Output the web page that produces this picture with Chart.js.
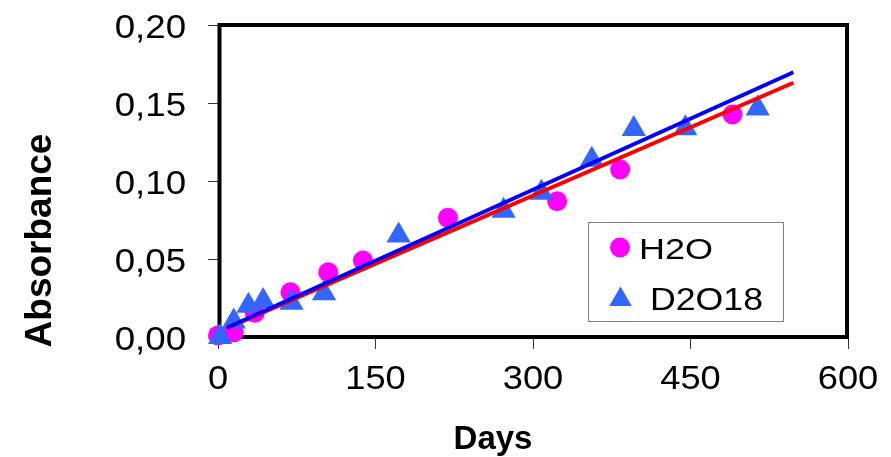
<!DOCTYPE html>
<html>
<head>
<meta charset="utf-8">
<script src="https://cdn.jsdelivr.net/npm/chart.js@4"></script>
<style>
  html, body { margin: 0; padding: 0; background: #ffffff; overflow: hidden; }
  #wrap { width: 891px; height: 457px; }
</style>
</head>
<body>
<div id="wrap"><canvas id="c" width="891" height="457"></canvas></div>
<script>
// Absorbance measured over time for the two water samples
const h2oDays = [0, 15, 35, 69, 105, 138, 219, 323, 383, 490];
const h2oAbs  = [0.001, 0.003, 0.0155, 0.0287, 0.0415, 0.049, 0.0764, 0.087, 0.1074, 0.1426];

const d2oDays = [2, 15, 29, 43, 70, 101, 172, 272, 308, 356, 396, 445, 514];
const d2oAbs  = [0.000, 0.010, 0.020, 0.023, 0.022, 0.028, 0.065, 0.081, 0.0924, 0.1136, 0.1333, 0.1338, 0.1465];

// Linear trend lines (end points)
const h2oFitDays = [8.5, 548];
const h2oFitAbs  = [0.0057, 0.163];
const d2oFitDays = [8.5, 548];
const d2oFitAbs  = [0.0059, 0.1697];

// Axis labels
const xTickLabels = ['0', '150', '300', '450', '600'];
const yTickLabels = ['0,00', '0,05', '0,10', '0,15', '0,20'];
const seriesNames = ['H2O', 'D2O18'];
const xTitle = 'Days';
const yTitle = 'Absorbance';

const toPoints = (xs, ys) => xs.map((x, i) => ({ x: x, y: ys[i] }));

const MAGENTA = '#ff00ff';
const TRI_BLUE = '#3366ff';

// Thick black frame around the plot area, drawn under the markers
const framePlugin = {
  id: 'frame',
  beforeDatasetsDraw(chart) {
    const { ctx, chartArea: a } = chart;
    ctx.save();
    ctx.strokeStyle = '#000000';
    ctx.lineWidth = 4;
    ctx.strokeRect(a.left + 1.5, a.top, (a.right - 1) - (a.left + 1.5), a.bottom - a.top);
    ctx.restore();
  }
};

// Legend box inside the plot area
const legendPlugin = {
  id: 'boxLegend',
  afterDatasetsDraw(chart) {
    const ctx = chart.ctx;
    ctx.save();
    ctx.fillStyle = '#ffffff';
    ctx.fillRect(588, 222, 196, 100);
    ctx.strokeStyle = '#808080';
    ctx.lineWidth = 1;
    ctx.strokeRect(588.5, 222.5, 195, 99);

    // circle marker
    ctx.fillStyle = MAGENTA;
    ctx.beginPath();
    ctx.arc(620, 247.5, 10, 0, Math.PI * 2);
    ctx.fill();

    // triangle marker
    const r = 13, cx = 620.5, cy = 299.5;
    ctx.fillStyle = TRI_BLUE;
    ctx.beginPath();
    for (let k = 0; k < 3; k++) {
      const ang = k * 2 * Math.PI / 3;
      const px = cx + Math.sin(ang) * r, py = cy - Math.cos(ang) * r;
      if (k === 0) ctx.moveTo(px, py); else ctx.lineTo(px, py);
    }
    ctx.closePath();
    ctx.fill();

    ctx.fillStyle = '#000000';
    ctx.textBaseline = 'alphabetic';
    ctx.textAlign = 'left';
    ctx.font = '30px "Liberation Sans", Arial, sans-serif';
    ctx.save(); ctx.translate(639, 258.5); ctx.scale(1.2, 1); ctx.fillText(seriesNames[0], 0, 0); ctx.restore();
    ctx.font = '31px "Liberation Sans", Arial, sans-serif';
    ctx.save(); ctx.translate(650, 310); ctx.scale(1.15, 1); ctx.fillText(seriesNames[1], 0, 0); ctx.restore();
    ctx.restore();
  }
};

// Tick labels and axis titles, set in a slightly widened sans face
const textPlugin = {
  id: 'axisText',
  afterDraw(chart) {
    const ctx = chart.ctx;
    const xs = chart.scales.x, ys = chart.scales.y;
    ctx.save();
    ctx.fillStyle = '#000000';
    ctx.textBaseline = 'alphabetic';
    ctx.font = '33px "Liberation Sans", Arial, sans-serif';

    ys.ticks.forEach((t, i) => {
      const y = ys.getPixelForTick(i);
      ctx.save();
      ctx.translate(186, y + 12.5);
      ctx.scale(1.11, 1);
      ctx.textAlign = 'right';
      ctx.fillText(t.label, 0, 0);
      ctx.restore();
    });

    xs.ticks.forEach((t, i) => {
      const x = xs.getPixelForTick(i);
      ctx.save();
      ctx.translate(x, 389);
      ctx.scale(1.1, 1);
      ctx.textAlign = 'center';
      ctx.fillText(t.label, 0, 0);
      ctx.restore();
    });

    // x title
    ctx.font = 'bold 33px "Liberation Sans", Arial, sans-serif';
    ctx.textAlign = 'center';
    ctx.fillText(xTitle, 493, 449);

    // y title (rotated)
    ctx.save();
    ctx.translate(51, 240.5);
    ctx.rotate(-Math.PI / 2);
    ctx.font = 'bold 37px "Liberation Sans", Arial, sans-serif';
    ctx.textAlign = 'center';
    ctx.fillText(yTitle, 0, 0);
    ctx.restore();

    ctx.restore();
  }
};

new Chart(document.getElementById('c'), {
  type: 'scatter',
  data: {
    datasets: [
      {
        label: 'D2O18 fit',
        data: toPoints(d2oFitDays, d2oFitAbs),
        showLine: true,
        borderColor: '#0000ff',
        borderWidth: 4,
        pointRadius: 0,
        fill: false,
        order: 0,
        clip: false
      },
      {
        label: 'H2O fit',
        data: toPoints(h2oFitDays, h2oFitAbs),
        showLine: true,
        borderColor: '#ff0000',
        borderWidth: 4,
        pointRadius: 0,
        fill: false,
        order: 1,
        clip: false
      },
      {
        label: seriesNames[1],
        data: toPoints(d2oDays, d2oAbs),
        pointStyle: 'triangle',
        pointRadius: 14,
        backgroundColor: TRI_BLUE,
        borderColor: TRI_BLUE,
        borderWidth: 0,
        order: 2,
        clip: false
      },
      {
        label: seriesNames[0],
        data: toPoints(h2oDays, h2oAbs),
        pointStyle: 'circle',
        pointRadius: 10,
        backgroundColor: MAGENTA,
        borderColor: MAGENTA,
        borderWidth: 0,
        order: 3,
        clip: false
      }
    ]
  },
  options: {
    responsive: false,
    animation: false,
    devicePixelRatio: 1,
    events: [],
    layout: { padding: { top: 25, right: 43, left: 0, bottom: 0 } },
    plugins: {
      legend: { display: false },
      tooltip: { enabled: false },
      title: { display: false }
    },
    scales: {
      x: {
        type: 'linear',
        min: 0,
        max: 600,
        ticks: {
          stepSize: 150,
          display: false,
          callback: (v, i) => xTickLabels[i]
        },
        grid: { drawOnChartArea: false, drawTicks: true, tickLength: 12, tickColor: '#333333', tickWidth: 1 },
        border: { display: false },
        afterFit(scale) { scale.height = 120; }
      },
      y: {
        type: 'linear',
        min: 0,
        max: 0.2,
        ticks: {
          stepSize: 0.05,
          display: false,
          callback: (v, i) => yTickLabels[i]
        },
        grid: { drawOnChartArea: false, drawTicks: true, tickLength: 10, tickColor: '#333333', tickWidth: 1 },
        border: { display: false },
        afterFit(scale) { scale.width = 218; }
      }
    }
  },
  plugins: [framePlugin, legendPlugin, textPlugin]
});
</script>
</body>
</html>
